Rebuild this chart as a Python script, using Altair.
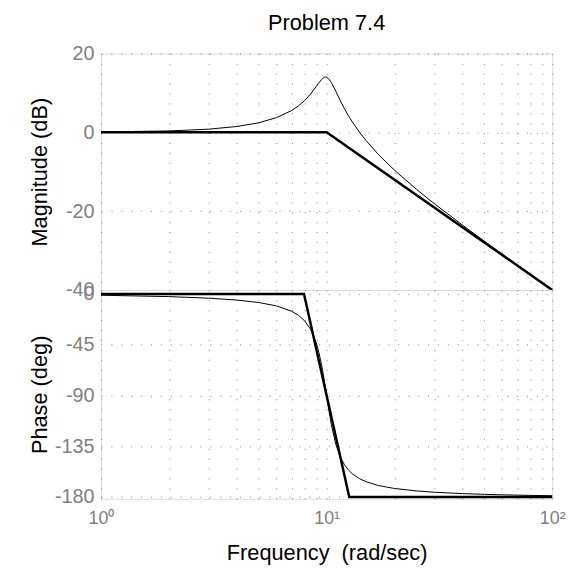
import altair as alt
import pandas as pd

# ---- data ----
freq = [1, 2, 3, 4, 5, 6, 7, 7.5, 8, 8.5, 9, 9.2, 9.5, 9.6, 9.8, 9.9, 10, 10.2,
        10.5, 11, 11.5, 12, 12.5, 13, 14, 15, 17, 20, 25, 30, 40, 50, 70, 100]
mag_db = [0.09, 0.35, 0.80, 1.48, 2.42, 3.73, 5.53, 6.70, 8.09, 9.75, 11.64, 12.41,
          13.41, 13.66, 13.98, 14.02, 13.98, 13.64, 12.63, 10.34, 8.04, 6.00, 4.21,
          2.65, 0.00, -2.18, -5.67, -9.62, -14.44, -18.09, -23.53, -27.61, -33.63, -39.91]
phase_deg = [-1.16, -2.39, -3.77, -5.44, -7.59, -10.62, -15.35, -18.92, -23.96, -31.49,
             -43.45, -50.14, -62.83, -67.8, -78.58, -84.26, -90.0, -101.2, -116.0,
             -133.67, -144.51, -151.39, -156.04, -159.35, -163.74, -166.5, -169.8,
             -172.41, -174.56, -175.71, -176.95, -177.61, -178.33, -178.84]
asym_mag_freq = [1, 10, 100]
asym_mag_db = [0, 0, -40]
asym_ph_freq = [1, 7.94, 12.6, 100]
asym_ph_deg = [0, 0, -180, -180]

x_ticks = [1, 2, 3, 4, 5, 6, 7, 8, 9, 10, 20, 30, 40, 50, 60, 70, 80, 90, 100]
mag_ticks = [20, 0, -20, -40]
phase_ticks = [0, -45, -90, -135, -180]

title_text = "Problem 7.4"
xtitle = "Frequency\u00a0 (rad/sec)"
mag_title = "Magnitude (dB)"
phase_title = "Phase (deg)"

# ---- styling ----
FONT = "Liberation Sans"
GRAY = "#808080"
W = 456
H_MAG = 239
H_PH = 211
GRID = dict(grid=True, gridDash=[1, 9], gridColor=GRAY, gridOpacity=1, gridWidth=1)

curve_mag = pd.DataFrame({"f": freq, "v": mag_db})
curve_ph = pd.DataFrame({"f": freq, "v": phase_deg})
asy_mag = pd.DataFrame({"f": asym_mag_freq, "v": asym_mag_db})
asy_ph = pd.DataFrame({"f": asym_ph_freq, "v": asym_ph_deg})

xscale = alt.Scale(type="log", domain=[1, 100], nice=False)

x_axis_top = alt.Axis(values=x_ticks, labels=False, ticks=False, domain=False, title=None, **GRID)
x_axis_bottom = alt.Axis(
    values=x_ticks, ticks=False, domain=False, title=xtitle,
    labelExpr="datum.value == 1 ? '10\u2070' : datum.value == 10 ? '10\u00b9' : datum.value == 100 ? '10\u00b2' : ''",
    labelFontSize=18, labelColor=GRAY, labelPadding=11, labelFlush=False, labelOverlap=False,
    titleFontSize=22, titleFontWeight="normal", titleColor="black", titlePadding=15,
    **GRID)


def yaxis(vals, title):
    return alt.Axis(values=vals, ticks=False, domain=False, title=title,
                    labelExpr="'' + datum.value",
                    labelFontSize=20, labelColor=GRAY, labelPadding=7,
                    minExtent=45, maxExtent=45, titlePadding=5,
                    titleFontSize=22, titleFontWeight="normal", titleColor="black",
                    **GRID)


mag_y = alt.Y("v:Q", scale=alt.Scale(domain=[-40, 20], nice=False, zero=False), axis=yaxis(mag_ticks, mag_title))
ph_y = alt.Y("v:Q", scale=alt.Scale(domain=[-181.5, 3.5], nice=False, zero=False), axis=yaxis(phase_ticks, phase_title))

mag = alt.layer(
    alt.Chart(curve_mag).mark_line(color="black", strokeWidth=1).encode(
        x=alt.X("f:Q", scale=xscale, axis=x_axis_top), y=mag_y),
    alt.Chart(asy_mag).mark_line(color="black", strokeWidth=2.5).encode(
        x=alt.X("f:Q", scale=xscale, axis=x_axis_top), y=mag_y),
).properties(width=W, height=H_MAG,
             title=alt.TitleParams(title_text, fontSize=22, fontWeight="normal", font=FONT,
                                   color="black", anchor="middle", offset=4, dy=-5))

ph = alt.layer(
    alt.Chart(curve_ph).mark_line(color="black", strokeWidth=1).encode(
        x=alt.X("f:Q", scale=xscale, axis=x_axis_bottom), y=ph_y),
    alt.Chart(asy_ph).mark_line(color="black", strokeWidth=2.5).encode(
        x=alt.X("f:Q", scale=xscale, axis=x_axis_bottom), y=ph_y),
).properties(width=W, height=H_PH)

chart = alt.vconcat(mag, ph, spacing=0, bounds="flush").properties(
    padding={"left": 20, "top": 0, "right": 5, "bottom": 0}
).configure_view(stroke=GRAY, strokeWidth=1).configure(font=FONT)

chart.save("out.html", embed_options={"renderer": "svg", "actions": False})
